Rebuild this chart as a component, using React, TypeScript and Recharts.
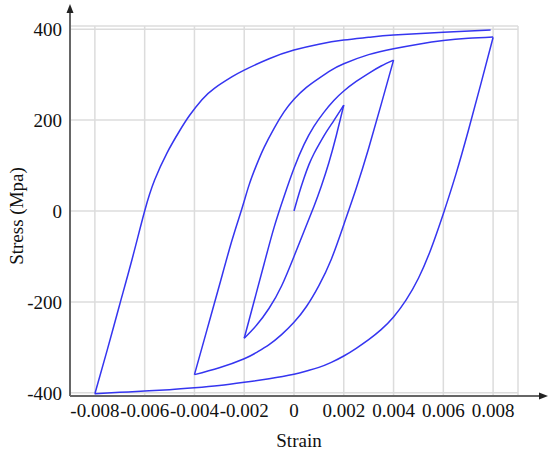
import { LineChart, Line, XAxis, YAxis, CartesianGrid } from "recharts";

type Pt = [number, number]; // [strain, stress MPa]

const STRAIN_TICKS = [-0.008, -0.006, -0.004, -0.002, 0, 0.002, 0.004, 0.006, 0.008];
const STRESS_TICKS = [-400, -200, 0, 200, 400];

// loading history, branch by branch
const initialLoading: Pt[] = [
  [0, 0], [0.0002, 38], [0.0004, 72], [0.0006, 102], [0.0008, 126], [0.001, 146],
  [0.0013, 174], [0.0016, 199], [0.002, 233],
];

const unload1: Pt[] = [
  [0.002, 233], [0.0017, 166], [0.0014, 106], [0.0011, 55], [0.0008, 10],
  [0.0004, -45], [0, -100], [-0.0005, -165], [-0.001, -214], [-0.0015, -251], [-0.002, -280],
];

const reload1: Pt[] = [
  [-0.002, -280], [-0.0016, -198], [-0.0012, -116], [-0.0008, -36], [-0.0004, 32],
  [0, 94], [0.0004, 146], [0.0008, 186], [0.0012, 217], [0.0016, 243], [0.002, 264],
  [0.0025, 285], [0.003, 303], [0.0035, 319], [0.004, 332],
];

const unload2: Pt[] = [
  [0.004, 332], [0.0035, 234], [0.003, 138], [0.0025, 50], [0.002, -30],
  [0.0015, -106], [0.001, -164], [0.0005, -210], [0, -245], [-0.0005, -272],
  [-0.001, -294], [-0.0015, -311], [-0.002, -325], [-0.003, -345], [-0.004, -360],
];

const reload2: Pt[] = [
  [-0.004, -360], [-0.0035, -262], [-0.003, -164], [-0.0025, -66], [-0.0021, 4],
  [-0.0018, 58], [-0.0015, 102], [-0.0012, 140], [-0.0008, 182], [-0.0004, 218],
  [0, 246], [0.0005, 272], [0.001, 292], [0.0015, 310], [0.002, 324], [0.003, 344],
  [0.004, 357], [0.005, 367], [0.006, 375], [0.007, 380], [0.008, 383],
];

const unload3: Pt[] = [
  [0.008, 382], [0.0075, 278], [0.007, 176], [0.0065, 80], [0.006, -6],
  [0.0055, -84], [0.005, -148], [0.0045, -196], [0.004, -233], [0.0035, -261],
  [0.003, -283], [0.0025, -302], [0.002, -319], [0.0015, -333], [0.001, -344],
  [0.0005, -352], [0, -359], [-0.001, -369], [-0.002, -377], [-0.003, -384],
  [-0.004, -389], [-0.005, -393], [-0.006, -396], [-0.007, -399], [-0.008, -402],
];

const reload3: Pt[] = [
  [-0.008, -402], [-0.0075, -305], [-0.007, -205], [-0.0065, -105], [-0.006, 0],
  [-0.0056, 68], [-0.0051, 128], [-0.0046, 176], [-0.0042, 210], [-0.0037, 245],
  [-0.0032, 270], [-0.0025, 295], [-0.002, 310], [-0.001, 335], [0, 354],
  [0.001, 367], [0.002, 376], [0.003, 382], [0.004, 387], [0.006, 393], [0.0079, 398],
];

const branches = [initialLoading, unload1, reload1, unload2, reload2, unload3, reload3].map(
  (b) => b.map(([strain, stress]) => ({ strain, stress }))
);

const FONT = "Liberation Serif, Tinos, DejaVu Serif, serif";
const tickStyle = { fontSize: 19, fill: "#111", fontFamily: FONT };

export default function App() {
  return (
    <div
      style={{
        position: "absolute",
        left: 0,
        top: 0,
        width: 550,
        height: 453,
        background: "#fff",
        fontFamily: FONT,
      }}
    >
      <LineChart width={550} height={453} margin={{ top: 26, right: 32, bottom: 0, left: 0 }}>
        <CartesianGrid stroke="#dcdcdc" strokeWidth={1.5} />
        <XAxis
          dataKey="strain"
          type="number"
          domain={[-0.009, 0.009]}
          ticks={STRAIN_TICKS}
          interval={0}
          height={57}
          tickLine={false}
          axisLine={{ stroke: "#666", strokeWidth: 2 }}
          tick={tickStyle}
          allowDuplicatedCategory={false}
        />
        <YAxis
          dataKey="stress"
          type="number"
          domain={[-407, 407]}
          ticks={STRESS_TICKS}
          interval={0}
          width={70}
          tickLine={false}
          axisLine={{ stroke: "#666", strokeWidth: 2 }}
          tick={tickStyle}
        />
        {branches.map((b, i) => (
          <Line
            key={`branch-${i}`}
            data={b}
            type="natural"
            dataKey="stress"
            stroke="#3535f0"
            strokeWidth={1.5}
            dot={false}
            isAnimationActive={false}
          />
        ))}
      </LineChart>

      {/* axis arrows and titles */}
      <svg
        width={550}
        height={453}
        style={{ position: "absolute", left: 0, top: 0, pointerEvents: "none" }}
      >
        <line x1={70} y1={27} x2={70} y2={11} stroke="#666" strokeWidth={2} />
        <polygon points="70,4 66.5,13 73.5,13" fill="#222" />
        <line x1={517} y1={396} x2={541} y2={396} stroke="#666" strokeWidth={2} />
        <polygon points="548,396 539,392.5 539,399.5" fill="#222" />
        <text
          x={16}
          y={216}
          transform="rotate(-90 16 216)"
          textAnchor="middle"
          dominantBaseline="central"
          fontFamily={FONT}
          fontSize={19}
          fill="#111"
        >
          Stress (Mpa)
        </text>
        <text x={299} y={447} textAnchor="middle" fontFamily={FONT} fontSize={19} fill="#111">
          Strain
        </text>
      </svg>
    </div>
  );
}
